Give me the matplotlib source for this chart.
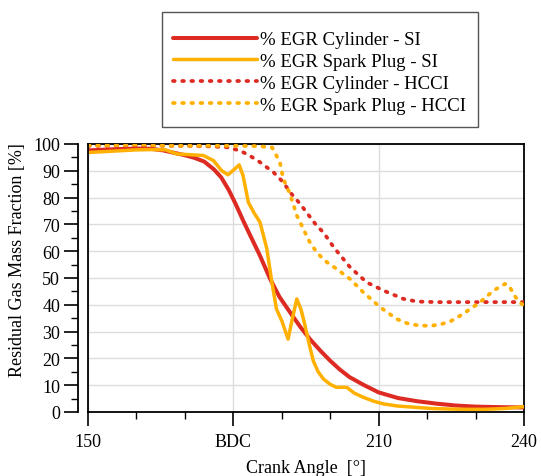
import matplotlib
matplotlib.use('Agg')
import matplotlib.pyplot as plt
from matplotlib.patches import Rectangle
from matplotlib.ticker import MultipleLocator, FixedLocator, FixedFormatter

plt.rcParams['font.family'] = ['Liberation Serif', 'DejaVu Serif']

# crank angle [deg] / residual gas mass fraction [%]
cyl_si_x = [150, 155, 160, 163, 165.5, 168, 170, 172, 174, 176, 177.5, 179, 180.5, 182,
            183.5, 185.5, 187.6, 189.5, 191.7, 193.8, 195.8, 198, 200, 202, 204, 207, 210,
            214, 218, 222, 226, 230, 235, 240]
cyl_si_y = [97.6, 98.0, 98.3, 98.2, 97.6, 96.6, 95.8, 94.8, 93.4, 90.5, 87.5, 83, 77.5, 71.5,
            65.8, 58.3, 49.6, 43, 37.2, 31.8, 27.2, 22.8, 19.1, 15.8, 13, 10, 7.3,
            5.2, 4.0, 3.1, 2.4, 2.0, 1.8, 1.7]

spark_si_x = [150, 155, 160, 163, 166, 168.3, 171, 173.8, 175.9, 177.6, 178.9, 180.3, 181.2,
              182, 183.1, 184.2, 185.5, 186.9, 187.9, 188.9, 190, 191.3, 192.2, 193.1, 194,
              194.8, 195.7, 196.5, 197.5, 198.6, 200, 201.3, 203.4, 205, 206.8, 209, 211,
              214, 217.9, 221, 224.7, 228, 232, 236, 240]
spark_si_y = [96.8, 97.3, 97.8, 97.9, 97.8, 96.3, 96, 95.7, 93.8, 90, 88.5, 90.7, 92.2,
              88.2, 78.2, 74.5, 70.8, 61, 49, 38.4, 34, 27.2, 35, 42.2, 38,
              32.2, 25, 19.1, 15, 12.3, 10.3, 9.2, 9.2, 7, 5.5, 4, 3,
              2.2, 1.7, 1.3, 1.1, 1.0, 1.0, 1.3, 2.0]

cyl_hcci_x = [150, 160, 168, 172, 175, 178.6, 181.4, 183.5, 185.5, 188.3, 190.3, 191.7, 193.8,
              195.1, 197.2, 198.6, 200.7, 204.1, 207.5, 211, 215.1, 217.9, 222, 228, 234, 240]
cyl_hcci_y = [99.3, 99.4, 99.3, 99.2, 99.1, 98.8, 97.5, 95.5, 93.2, 89.4, 85.7, 82, 77.6,
              74.5, 69.5, 67, 61.5, 54, 48.4, 45.3, 42.2, 41.2, 41, 41, 41, 41]

spark_hcci_x = [150, 160, 170, 180, 185, 188, 189.6, 190.3, 191.7, 193.1, 193.8, 195.1, 195.8,
                197.2, 198.6, 199.3, 201.3, 204.1, 206.8, 210.3, 213.7, 216, 218.5, 221, 223,
                225, 226.8, 228.8, 230.9, 233.7, 236.1, 237, 237.8, 239, 240]
spark_hcci_y = [99.4, 99.4, 99.3, 99.3, 99.2, 98.7, 93.2, 87, 81.3, 73.3, 70.8, 65.8, 63.3,
                59.6, 57, 55.9, 53.4, 49.6, 44.7, 39.1, 34.7, 33, 32.2, 32.2, 32.8,
                34, 35.9, 38.3, 40.9, 45.3, 47.8, 47, 44, 41, 39.7]

x_major = [150, 180, 210, 240]
x_major_labels = ['150', 'BDC', '210', '240']

RED = '#dd2a22'
YELLOW = '#ffb000'

fig = plt.figure(figsize=(5.41, 4.77), dpi=100)
ax = fig.add_axes([0.1627, 0.1342, 0.8059, 0.5619])

dot = (0.45, 2.0)
ax.plot(cyl_si_x, cyl_si_y, color=RED, lw=2.9, solid_capstyle='round',
        solid_joinstyle='round', label='% EGR Cylinder - SI', zorder=4)
ax.plot(spark_si_x, spark_si_y, color=YELLOW, lw=2.5, solid_capstyle='round',
        solid_joinstyle='round', label='% EGR Spark Plug - SI', zorder=5)
ax.plot(cyl_hcci_x, cyl_hcci_y, color=RED, lw=2.7, dashes=dot, dash_capstyle='round',
        label='% EGR Cylinder - HCCI', zorder=3)
ax.plot(spark_hcci_x, spark_hcci_y, color=YELLOW, lw=2.7, dashes=dot, dash_capstyle='round',
        label='% EGR Spark Plug - HCCI', zorder=3)

ax.set_xlim(150, 240)
ax.set_ylim(0, 100)

ax.xaxis.set_major_locator(FixedLocator(x_major))
ax.xaxis.set_major_formatter(FixedFormatter(x_major_labels))
ax.xaxis.set_minor_locator(MultipleLocator(10))
ax.yaxis.set_major_locator(MultipleLocator(10))
ax.yaxis.set_minor_locator(MultipleLocator(5))

ax.grid(True, which='major', color='#dcdcdc', lw=1.0, zorder=0)
ax.set_axisbelow(True)

ax.tick_params(which='major', direction='out', length=10, width=1.2, labelsize=13, pad=3)
ax.tick_params(which='minor', direction='out', length=5, width=1.0)
ax.tick_params(axis='x', which='major', pad=5)

for side in ['top', 'right', 'bottom', 'left']:
    ax.spines[side].set_linewidth(1.3)
ax.spines['left'].set_position(('outward', 7))
# frame edge left behind by the offset y axis
ax.plot([0, 0], [0, 1], transform=ax.transAxes, color='black', lw=1.3,
        clip_on=False, zorder=6)

ax.set_xlabel('Crank Angle  [°]', fontsize=13)
ax.set_ylabel('Residual Gas Mass Fraction [%]', fontsize=13)
ax.xaxis.set_label_coords(0.5, -0.175)
ax.yaxis.set_label_coords(-0.143, 0.57)

# legend entries without their own frame; the box is drawn separately so it
# can have more room above and below than at the sides
leg = fig.legend(loc='upper left', bbox_to_anchor=(0.3198, 0.9329), fontsize=13.5,
                 handlelength=4.5, handletextpad=0.15, labelspacing=0.25,
                 borderpad=0, borderaxespad=0, frameon=False)
box = Rectangle((162 / 541, 1 - 128 / 477), 316 / 541, 115 / 477,
                transform=fig.transFigure, facecolor='white', edgecolor='#555555',
                lw=1.0, zorder=0)
fig.patches.append(box)

fig.savefig('out.png', dpi=100)
